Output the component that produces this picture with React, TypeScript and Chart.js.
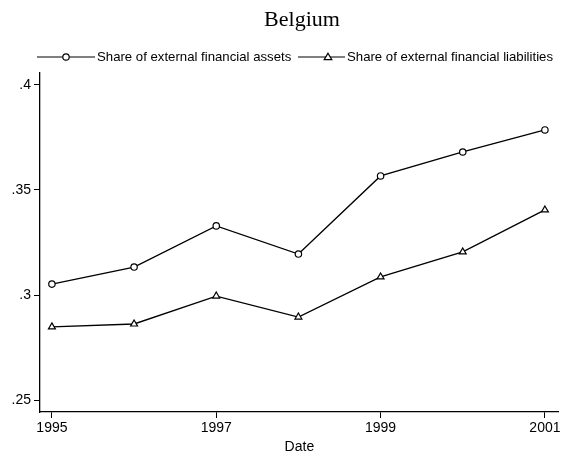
import React, { useEffect, useRef } from "react";
import { Chart, registerables } from "chart.js";

Chart.register(...registerables);

const years = [1995, 1996, 1997, 1998, 1999, 2000, 2001];
const assets = [0.3052, 0.3133, 0.3329, 0.3195, 0.3567, 0.3681, 0.3786];
const liabilities = [0.2848, 0.2862, 0.2995, 0.2895, 0.3086, 0.3205, 0.3405];
const xTicks = [1995, 1997, 1999, 2001];
const yTicks = [0.25, 0.3, 0.35, 0.4];
const seriesNames = ["Share of external financial assets", "Share of external financial liabilities"];
const title = "Belgium";

const fmtY = (v: number) => {
  const s = String(Math.round(v * 100) / 100);
  return s.startsWith("0") ? s.slice(1) : s;
};

const overlay = {
  id: "overlay",
  afterDraw(chart: any) {
    const ctx = chart.ctx;
    ctx.save();
    ctx.fillStyle = "#000";
    ctx.font = '22px "Liberation Serif", "Times New Roman", serif';
    ctx.textAlign = "center";
    ctx.textBaseline = "alphabetic";
    ctx.fillText(title, 302, 26);

    const drawMarker = (kind: string, x: number, y: number) => {
      ctx.beginPath();
      if (kind === "circle") {
        ctx.arc(x, y, 3.2, 0, Math.PI * 2);
      } else {
        ctx.moveTo(x, y - 3.8);
        ctx.lineTo(x + 3.8, y + 2.6);
        ctx.lineTo(x - 3.8, y + 2.6);
        ctx.closePath();
      }
      ctx.fillStyle = "#fff";
      ctx.fill();
      ctx.strokeStyle = "#000";
      ctx.lineWidth = 1.2;
      ctx.stroke();
    };

    const ly = 57;
    ctx.font = '13.2px "Liberation Sans", Arial, sans-serif';
    ctx.textAlign = "left";
    ctx.textBaseline = "middle";
    const items = [
      { x0: 37, x1: 95, m: 66, kind: "circle", tx: 97 },
      { x0: 298, x1: 345, m: 328, kind: "triangle", tx: 347 },
    ];
    items.forEach((it, i) => {
      ctx.beginPath();
      ctx.moveTo(it.x0, ly);
      ctx.lineTo(it.x1, ly);
      ctx.strokeStyle = "#000";
      ctx.lineWidth = 1.2;
      ctx.stroke();
      drawMarker(it.kind, it.m, ly);
      ctx.fillStyle = "#000";
      ctx.fillText(seriesNames[i], it.tx, ly);
    });
    ctx.restore();
  },
};

export default function App() {
  const ref = useRef<HTMLCanvasElement>(null);
  useEffect(() => {
    if (!ref.current) return;
    const chart = new Chart(ref.current, {
      type: "line",
      data: {
        datasets: [
          {
            label: seriesNames[0],
            data: years.map((y, i) => ({ x: y, y: assets[i] })),
            borderColor: "#000",
            borderWidth: 1.3,
            pointStyle: "circle",
            pointRadius: 3.2,
            pointBackgroundColor: "#fff",
            pointBorderColor: "#000",
            pointBorderWidth: 1.2,
            tension: 0,
          },
          {
            label: seriesNames[1],
            data: years.map((y, i) => ({ x: y, y: liabilities[i] })),
            borderColor: "#000",
            borderWidth: 1.3,
            pointStyle: "triangle",
            pointRadius: 4,
            pointBackgroundColor: "#fff",
            pointBorderColor: "#000",
            pointBorderWidth: 1.2,
            tension: 0,
          },
        ],
      },
      options: {
        animation: false,
        responsive: false,
        maintainAspectRatio: false,
        layout: { padding: { top: 73, left: 0, right: 2, bottom: 0 } },
        plugins: { legend: { display: false }, tooltip: { enabled: false }, title: { display: false } },
        scales: {
          x: {
            type: "linear",
            min: 1994.855,
            max: 2001.169,
            afterBuildTicks: (s: any) => { s.ticks = xTicks.map((v) => ({ value: v })); },
            afterFit: (s: any) => { s.height = 44; },
            ticks: {
              color: "#000",
              font: { family: '"Liberation Sans", Arial, sans-serif', size: 14 },
              callback: (v: any) => String(v),
              maxRotation: 0,
              padding: 2,
            },
            grid: { drawOnChartArea: false, drawTicks: true, tickLength: 6, color: "#000", lineWidth: 1 },
            border: { display: true, color: "#000", width: 1.3 },
            title: {
              display: true,
              text: "Date",
              color: "#000",
              font: { family: '"Liberation Sans", Arial, sans-serif', size: 14 },
              padding: { top: 0, bottom: 0 },
            },
          },
          y: {
            type: "linear",
            min: 0.24429,
            max: 0.40571,
            afterBuildTicks: (s: any) => { s.ticks = yTicks.map((v) => ({ value: v })); },
            afterFit: (s: any) => { s.width = 40; },
            ticks: {
              color: "#000",
              font: { family: '"Liberation Sans", Arial, sans-serif', size: 14 },
              callback: (v: any) => fmtY(Number(v)),
              padding: 3,
            },
            grid: { drawOnChartArea: false, drawTicks: true, tickLength: 6, color: "#000", lineWidth: 1 },
            border: { display: true, color: "#000", width: 1.3 },
          },
        },
      },
      plugins: [overlay],
    });
    return () => chart.destroy();
  }, []);
  return (
    <div style={{ position: "fixed", left: 0, top: 0, width: 564, height: 456, background: "#fff" }}>
      <canvas ref={ref} width={564} height={456} style={{ width: 564, height: 456 }} />
    </div>
  );
}
